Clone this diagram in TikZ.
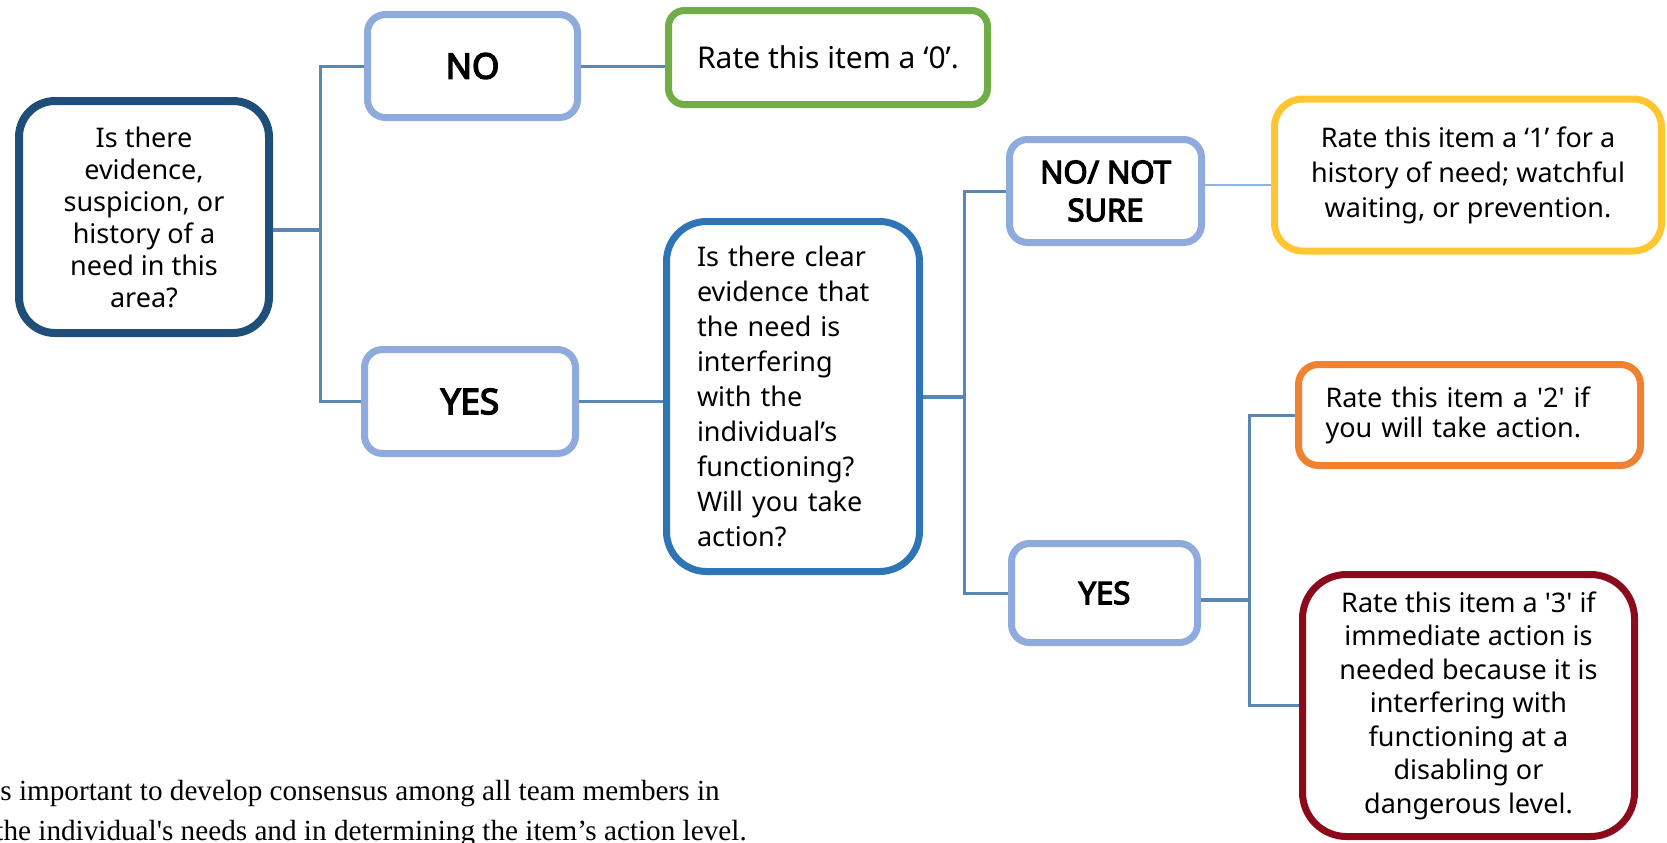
\documentclass[tikz,border=0pt]{standalone}
\usepackage{fontspec}
\setmainfont{Noto Sans}
\newfontfamily\choicefont{Open Sans}[AutoFakeBold=4.5]
\newfontfamily\notefont{Liberation Serif}
\usetikzlibrary{positioning}

\definecolor{qdark}{HTML}{1F4E79}
\definecolor{qmid}{HTML}{2E75B6}
\definecolor{choiceblue}{HTML}{8FAADC}
\definecolor{ratezero}{HTML}{70AD47}
\definecolor{rateone}{HTML}{FFC533}
\definecolor{ratetwo}{HTML}{F08131}
\definecolor{ratethree}{HTML}{8B0A1B}
\definecolor{linkblue}{HTML}{5A86B4}
\definecolor{linklight}{HTML}{8DB4E2}

\begin{document}
\begin{tikzpicture}[x=0.5pt,y=-0.5pt,
 box/.style={draw,fill=white,line width=3.5pt,inner sep=0pt,align=center,
  font=\fontsize{13.5}{16}\selectfont},
 choice/.style={box,draw=choiceblue,rounded corners=9pt,
  font=\choicefont\bfseries\fontsize{17.5}{19}\selectfont},
 subchoice/.style={choice,font=\choicefont\bfseries\fontsize{15.5}{19}\selectfont},
 link/.style={draw=linkblue,line width=1.5pt},
 stub/.style={draw=linkblue,line width=2.2pt},
 note/.style={font=\notefont\fontsize{14.6}{20}\selectfont,inner sep=0pt}]

\useasboundingbox (0,0) rectangle (1667,842);
\clip (0,0) rectangle (1667,842);

% first question and its answers
\node[box,draw=qdark,line width=4pt,rounded corners=18pt,minimum width=125pt,minimum height=116pt] (q1) at (144,217) {Is there\\evidence,\\suspicion, or\\history of a\\need in this\\area?};
\node[choice,minimum width=105pt,minimum height=51.5pt] (no) at (472.5,66) {NO};
\node[choice,minimum width=105.5pt,minimum height=52pt] (yes) at (470,401.5) {YES};
\node[box,draw=ratezero,rounded corners=8pt,minimum width=159.5pt,minimum height=47pt,font=\fontsize{15}{18}\selectfont] (r0) at (828,57.5) {Rate this item a ‘0’.};

% second question
\node[box,draw=qmid,rounded corners=20pt,minimum width=126.5pt,minimum height=175pt,align=left,text width=96pt,font=\fontsize{13.5}{17.5}\selectfont] (q2) at (793,396.5) {Is there clear\\evidence that\\the need is\\interfering\\with the\\individual’s\\functioning?\\Will you take\\action?};
\node[subchoice,minimum width=96pt,minimum height=51.5pt] (nn) at (1105.5,191) {NO/ NOT\\SURE};
\node[subchoice,minimum width=93pt,minimum height=49.5pt] (yes2) at (1104.5,593) {YES};

% ratings
\node[box,draw=rateone,rounded corners=14pt,minimum width=193.5pt,minimum height=76pt,font=\fontsize{13.5}{17.5}\selectfont] (r1) at (1468,175) {Rate this item a ‘1’ for a\\history of need; watchful\\waiting, or prevention.};
\node[box,draw=ratetwo,rounded corners=10pt,minimum width=171pt,minimum height=50.5pt,align=left,text width=144pt,font=\fontsize{13.5}{15}\selectfont] (r2) at (1469.5,415) {Rate this item a \textquotesingle 2\textquotesingle\ if\\you will take action.};
\node[box,draw=ratethree,rounded corners=22pt,minimum width=166pt,minimum height=131pt,font=\fontsize{13.5}{16.75}\selectfont] (r3) at (1468.5,705.5) {Rate this item a \textquotesingle 3\textquotesingle\ if\\immediate action is\\needed because it is\\interfering with\\functioning at a\\disabling or\\dangerous level.};

% connectors
\coordinate (j1) at (320,230);
\draw[stub] (q1.east |- j1) -- (j1);
\draw[link] (no.west) -| (j1) |- (yes.west);
\draw[link] (no.east) -- (no.east -| r0.west);
\draw[link] (yes.east) -- (yes.east -| q2.west);

\coordinate (j2) at (964,397);
\draw[stub] (q2.east |- j2) -- (j2);
\draw[link] (nn.west) -| (j2) |- (yes2.west);
\draw[draw=linklight,line width=1pt] ([yshift=3pt]nn.east) -- ([yshift=3pt]nn.east -| r1.west);

\coordinate (j3) at (1249,600);
\draw[stub] (yes2.east |- j3) -- (j3);
\draw[link] (r2.west) -| (j3) |- (r3.west);

% note under the chart
\node[note,anchor=base west] (note1) at (0,800) {s important to develop consensus among all team members in};
\node[note,anchor=base west] (note2) at (-5,840) {the individual's needs and in determining the item’s action level.};

\end{tikzpicture}
\end{document}
